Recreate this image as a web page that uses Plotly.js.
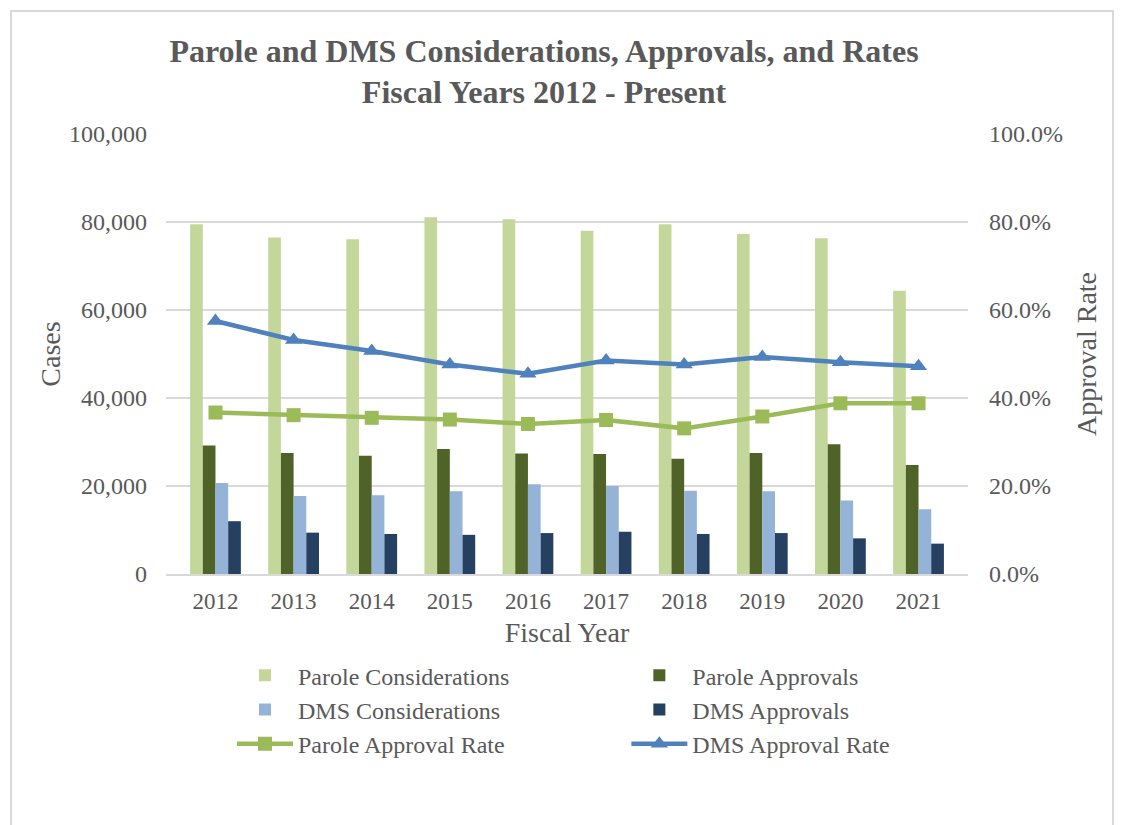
<!DOCTYPE html>
<html>
<head>
<meta charset="utf-8">
<script src="https://cdn.plot.ly/plotly-3.0.1.min.js"></script>
<style>
  html, body { margin: 0; padding: 0; background: #ffffff; }
  #wrap { position: relative; width: 1124px; height: 825px; }
  #chart { width: 1124px; height: 825px; }
  #frame { position: absolute; left: 10px; top: 10px; width: 1104px; height: 830px;
           border: 2px solid #d9d9d9; pointer-events: none; box-sizing: border-box; }
</style>
</head>
<body>
<div id="wrap">
  <div id="chart"></div>
  <div id="frame"></div>
</div>
<script>
const years = ['2012','2013','2014','2015','2016','2017','2018','2019','2020','2021'];
const paroleConsiderations = [79500, 76500, 76100, 81100, 80600, 78000, 79500, 77300, 76300, 64400];
const paroleApprovals      = [29200, 27500, 26900, 28400, 27400, 27300, 26200, 27500, 29500, 24800];
const dmsConsiderations    = [20700, 17700, 17900, 18800, 20400, 20000, 18900, 18800, 16700, 14700];
const dmsApprovals         = [12000,  9400,  9100,  8900,  9300,  9600,  9100,  9300,  8100,  6900];
const paroleApprovalRate   = [0.367, 0.361, 0.355, 0.351, 0.341, 0.350, 0.331, 0.358, 0.388, 0.388];
const dmsApprovalRate      = [0.575, 0.532, 0.507, 0.476, 0.455, 0.485, 0.476, 0.493, 0.481, 0.472];

const font = 'Liberation Serif, Times New Roman, serif';
const gray = '#595959';

const traces = [
  {type:'bar', name:'Parole Considerations', x:years, y:paroleConsiderations, marker:{color:'#C4D79B'}, legend:'legend', legendrank:1},
  {type:'bar', name:'Parole Approvals', x:years, y:paroleApprovals, marker:{color:'#4F6228'}, legend:'legend2', legendrank:1},
  {type:'bar', name:'DMS Considerations', x:years, y:dmsConsiderations, marker:{color:'#95B3D7'}, legend:'legend', legendrank:2},
  {type:'bar', name:'DMS Approvals', x:years, y:dmsApprovals, marker:{color:'#254061'}, legend:'legend2', legendrank:2},
  {type:'scatter', mode:'lines+markers', name:'Parole Approval Rate', x:years, y:paroleApprovalRate, yaxis:'y2',
   line:{color:'#9BBB59', width:4.5}, marker:{symbol:'square', size:14, color:'#9BBB59'}, legend:'legend', legendrank:3},
  {type:'scatter', mode:'lines+markers', name:'DMS Approval Rate', x:years, y:dmsApprovalRate, yaxis:'y2',
   line:{color:'#4F81BD', width:4.5}, marker:{symbol:'triangle-up', size:15, color:'#4F81BD'}, legend:'legend2', legendrank:3}
];

const legendCommon = {orientation:'v', y:-0.18, yanchor:'top', itemwidth:56,
  font:{size:24, color:gray, family:font}, traceorder:'normal', tracegroupgap:0,
  bgcolor:'rgba(0,0,0,0)'};

const layout = {
  width: 1124, height: 825,
  margin: {l:166, r:156, t:134, b:251},
  paper_bgcolor:'#ffffff', plot_bgcolor:'#ffffff',
  font: {family: font, color: gray, size: 24},
  title: {text:'<b>Parole and DMS Considerations, Approvals, and Rates<br>Fiscal Years 2012 - Present</b>',
          font:{family:font, size:32, color:gray}, x:0.484, xanchor:'center', y:0.925, yanchor:'top'},
  barmode:'group', bargap:0.35, bargroupgap:0,
  xaxis: {type:'category', tickfont:{size:23, color:gray, family:font}, ticklabelstandoff:5,
          title:{text:'Fiscal Year', font:{size:28, color:gray, family:font}, standoff:10},
          showline:true, linecolor:'#d9d9d9', linewidth:2, ticks:'', showgrid:false, zeroline:false},
  yaxis: {range:[0,100000], tickvals:[0,20000,40000,60000,80000,100000],
          ticktext:['0','20,000','40,000','60,000','80,000','100,000'],
          tickfont:{size:24, color:gray, family:font}, ticklabelstandoff:18,
          title:{text:'Cases', font:{size:28, color:gray, family:font}, standoff:0},
          gridcolor:'#d9d9d9', gridwidth:2, zeroline:false, showline:false, ticks:''},
  yaxis2: {range:[0,1], overlaying:'y', side:'right', tickvals:[0,0.2,0.4,0.6,0.8,1],
          tickformat:'.1%', tickfont:{size:24, color:gray, family:font}, ticklabelstandoff:20,
          title:{text:'Approval Rate', font:{size:28, color:gray, family:font}, standoff:14},
          showgrid:false, zeroline:false, showline:false, ticks:''},
  showlegend:true,
  legend: Object.assign({}, legendCommon, {x:0.0823, xanchor:'left'}),
  legend2: Object.assign({}, legendCommon, {x:0.574, xanchor:'left'})
};

Plotly.newPlot('chart', traces, layout, {displayModeBar:false, staticPlot:true});
</script>
</body>
</html>
